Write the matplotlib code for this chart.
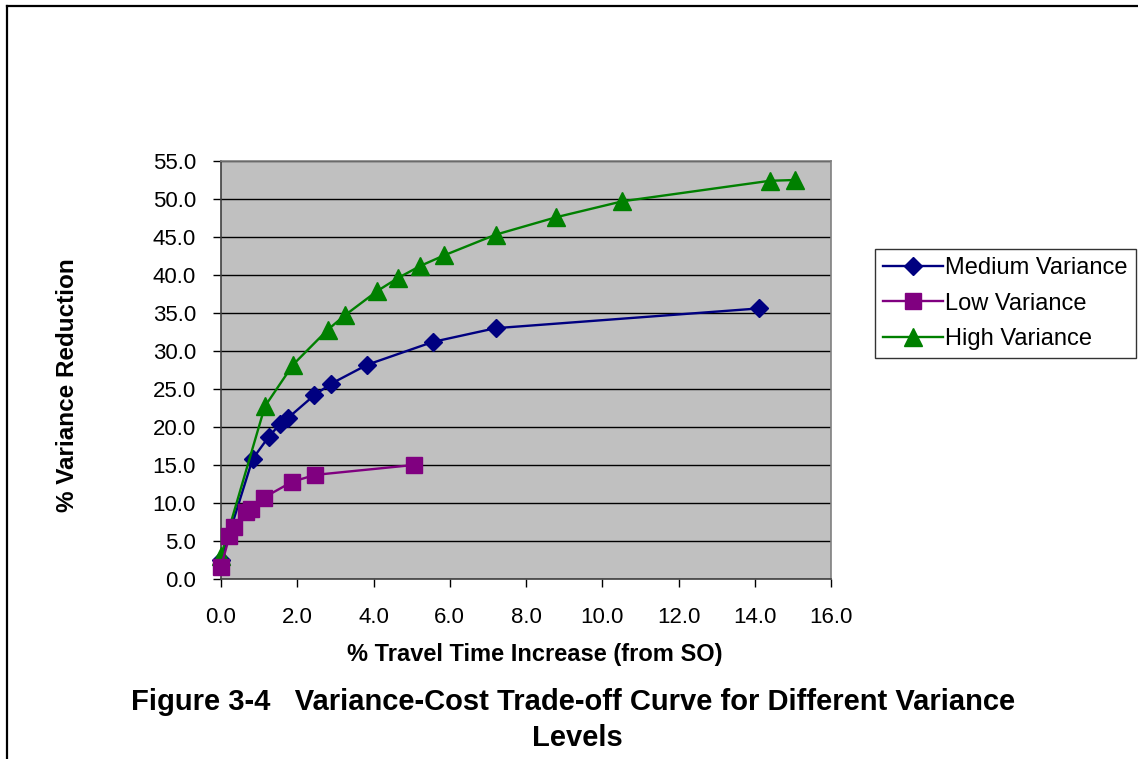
import matplotlib
matplotlib.use("Agg")
import matplotlib.pyplot as plt
from matplotlib.lines import Line2D

plt.rcParams['font.family'] = ['Liberation Sans', 'DejaVu Sans']

# Variance-cost trade-off data (% travel time increase vs % variance reduction)
medium_x = [0.0, 0.83, 1.25, 1.55, 1.76, 2.45, 2.89, 3.84, 5.56, 7.20, 14.10]
medium_y = [2.5, 15.8, 18.7, 20.4, 21.2, 24.2, 25.7, 28.2, 31.2, 33.0, 35.6]

low_x = [0.0, 0.22, 0.35, 0.66, 0.80, 1.12, 1.87, 2.47, 5.05]
low_y = [1.6, 5.6, 6.8, 8.8, 9.2, 10.7, 12.8, 13.7, 15.0]

high_x = [0.0, 1.15, 1.89, 2.80, 3.25, 4.10, 4.64, 5.23, 5.86, 7.20, 8.79, 10.53, 14.40, 15.05]
high_y = [3.0, 22.7, 28.2, 32.8, 34.7, 37.9, 39.6, 41.2, 42.6, 45.3, 47.6, 49.7, 52.4, 52.5]

x_ticks = [0, 2, 4, 6, 8, 10, 12, 14, 16]
y_ticks = [0, 5, 10, 15, 20, 25, 30, 35, 40, 45, 50, 55]

W, H = 1138, 759
fig = plt.figure(figsize=(W / 100, H / 100), dpi=100)

# page frame (left and top edges)
fig.add_artist(Line2D([7 / W, 7 / W], [0, 1 - 6 / H], transform=fig.transFigure,
                      color='black', lw=1.6))
fig.add_artist(Line2D([7 / W, 1], [1 - 6 / H, 1 - 6 / H], transform=fig.transFigure,
                      color='black', lw=1.6))

ax = fig.add_axes([221 / W, 1 - 579 / H, 610 / W, 418 / H])
ax.set_facecolor('#C0C0C0')
ax.set_xlim(0, 16)
ax.set_ylim(0, 55)
ax.set_xticks(x_ticks)
ax.set_yticks(y_ticks)
ax.set_xticklabels([f"{v:.1f}" for v in x_ticks])
ax.set_yticklabels([f"{v:.1f}" for v in y_ticks])
ax.tick_params(axis='both', direction='out', length=6, width=1, color='black',
               labelsize=16)
ax.tick_params(axis='x', pad=14)
ax.tick_params(axis='y', pad=12)
ax.yaxis.grid(True, color='black', lw=1)
ax.set_axisbelow(True)
for side in ['top', 'right']:
    ax.spines[side].set_color('#808080')
    ax.spines[side].set_linewidth(1.2)
for side in ['left', 'bottom']:
    ax.spines[side].set_color('#404040')
    ax.spines[side].set_linewidth(1.2)

ax.plot(medium_x, medium_y, color='#000080', lw=1.7, marker='D', markersize=9,
        label='Medium Variance', clip_on=False, zorder=3)
ax.plot(low_x, low_y, color='#800080', lw=1.7, marker='s', markersize=11,
        label='Low Variance', clip_on=False, zorder=4)
ax.plot(high_x, high_y, color='#008000', lw=1.7, marker='^', markersize=13,
        label='High Variance', clip_on=False, zorder=3)

# axis titles
fig.text(535 / W, 1 - 655 / H, '% Travel Time Increase (from SO)', ha='center',
         va='center', fontsize=17, fontweight='bold')
fig.text(68 / W, 1 - 385 / H, '% Variance Reduction', ha='center', va='center',
         rotation=90, fontsize=17.5, fontweight='bold')

leg = fig.legend(loc='upper left', bbox_to_anchor=(875 / W, 1 - 249 / H),
                 fontsize=17, frameon=True, fancybox=False, edgecolor='black',
                 handlelength=2.5, handletextpad=0.12, borderpad=0.36,
                 labelspacing=0.56, borderaxespad=0)
leg.get_frame().set_linewidth(1)

fig.text(573 / W, 1 - 702 / H, 'Figure 3-4   Variance-Cost Trade-off Curve for Different Variance',
         ha='center', va='center', fontsize=21, fontweight='bold')
fig.text(577 / W, 1 - 738 / H, 'Levels',
         ha='center', va='center', fontsize=21, fontweight='bold')

fig.savefig('out.png', dpi=100)
